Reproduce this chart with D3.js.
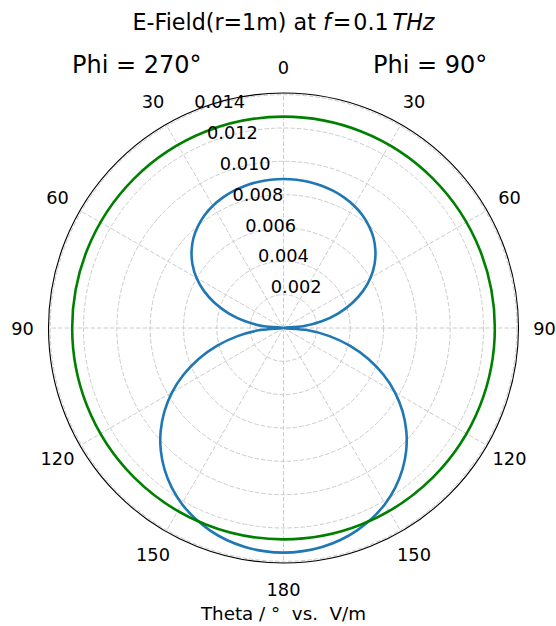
<!DOCTYPE html>
<html>
<head>
<meta charset="utf-8">
<script src="https://cdn.jsdelivr.net/npm/d3@7"></script>
<style>
  body { margin: 0; background: #fff; }
  text { font-family: "DejaVu Sans", sans-serif; fill: #000; }
</style>
</head>
<body>
<div id="chart"></div>
<script>
// theta (deg) for one half of the plot, 0 = top, clockwise
var thetaDeg = [0, 5, 10, 15, 20, 25, 30, 35, 40, 45, 50, 55, 60, 65, 70, 75, 80, 85, 90,
                95, 100, 105, 110, 115, 120, 125, 130, 135, 140, 145, 150, 155, 160, 165, 170, 175, 180];
// blue curve, V/m, same on both halves
var eBlue = [0.00894, 0.00893, 0.00890, 0.00884, 0.00875, 0.00863, 0.00847, 0.00826, 0.00798,
             0.00764, 0.00720, 0.00667, 0.00603, 0.00527, 0.00439, 0.00341, 0.00233, 0.00118, 0,
             0.00141, 0.00280, 0.00414, 0.00542, 0.00661, 0.00772, 0.00872, 0.00962, 0.01041,
             0.01110, 0.01169, 0.01219, 0.01259, 0.01292, 0.01317, 0.01334, 0.01344, 0.01348];
// green curve is flat
var eGreen = 0.01268;

var rTicks = [0.002, 0.004, 0.006, 0.008, 0.010, 0.012, 0.014];
var thetaTicks = [0, 30, 60, 90, 120, 150, 180, 210, 240, 270, 300, 330];
var thetaLabels = ["0", "30", "60", "90", "120", "150", "180", "150", "120", "90", "60", "30"];
var rMax = 0.0141;

var width = 556, height = 626;
var cx = 283.5, cy = 328, R = 235;

var svg = d3.select("#chart").append("svg")
    .attr("width", width)
    .attr("height", height);

var g = svg.append("g").attr("transform", `translate(${cx}, ${cy})`);

var rScale = d3.scaleLinear().domain([0, rMax]).range([0, R]);
var rad = d => d * Math.PI / 180;

// grid circles
g.selectAll(".rgrid")
    .data(rTicks)
    .enter()
    .append("circle")
    .attr("r", d => rScale(d))
    .attr("fill", "none")
    .attr("stroke", "#cccccc")
    .attr("stroke-width", 1)
    .attr("stroke-dasharray", "4.5,2");

// spokes
g.selectAll(".tgrid")
    .data(thetaTicks)
    .enter()
    .append("line")
    .attr("x1", 0).attr("y1", 0)
    .attr("x2", d => R * Math.sin(rad(d)))
    .attr("y2", d => -R * Math.cos(rad(d)))
    .attr("stroke", "#cccccc")
    .attr("stroke-width", 1)
    .attr("stroke-dasharray", "4.5,2");

// full closed curve: right half (phi=90) + mirrored left half (phi=270)
var pts = thetaDeg.map((t, i) => [rad(t), eBlue[i]]);
for (var i = thetaDeg.length - 2; i > 0; i--) {
    pts.push([rad(360 - thetaDeg[i]), eBlue[i]]);
}

var line = d3.lineRadial()
    .angle(d => d[0])
    .radius(d => rScale(d[1]))
    .curve(d3.curveCatmullRomClosed);

g.append("path")
    .datum(pts)
    .attr("d", line)
    .attr("fill", "none")
    .attr("stroke", "#1f77b4")
    .attr("stroke-width", 2.6);

g.append("circle")
    .attr("r", rScale(eGreen))
    .attr("fill", "none")
    .attr("stroke", "green")
    .attr("stroke-width", 2.6);

// outer frame
g.append("circle")
    .attr("r", R)
    .attr("fill", "none")
    .attr("stroke", "#000")
    .attr("stroke-width", 1.1);

// radial tick labels along -22.5 deg
var labAng = rad(-22.5);
g.selectAll(".rlab")
    .data(rTicks)
    .enter()
    .append("text")
    .attr("x", d => rScale(d) * Math.sin(labAng))
    .attr("y", d => -rScale(d) * Math.cos(labAng) - 4)
    .attr("font-size", "17.8px")
    .text(d => d3.format(".3f")(d));

// theta labels
var pad = 26;
g.selectAll(".tlab")
    .data(thetaTicks)
    .enter()
    .append("text")
    .attr("x", d => (R + pad) * Math.sin(rad(d)))
    .attr("y", d => -(R + pad) * Math.cos(rad(d)))
    .attr("text-anchor", "middle")
    .attr("dominant-baseline", "central")
    .attr("font-size", "17.8px")
    .text((d, i) => thetaLabels[i]);

// title
var title = svg.append("text")
    .attr("x", cx)
    .attr("y", 30)
    .attr("text-anchor", "middle")
    .attr("font-size", "22.2px");
title.append("tspan").text("E-Field(r=1m) at ");
title.append("tspan").attr("font-style", "italic").text("f");
title.append("tspan").attr("dx", 2).text("=");
title.append("tspan").attr("dx", 2).text("0.1");
title.append("tspan").attr("dx", 4).attr("font-style", "italic").text("THz");

svg.append("text")
    .attr("x", 72)
    .attr("y", 73)
    .attr("font-size", "24px")
    .text("Phi = 270°");

svg.append("text")
    .attr("x", 373)
    .attr("y", 73)
    .attr("font-size", "24px")
    .text("Phi = 90°");

svg.append("text")
    .attr("x", cx)
    .attr("y", 620)
    .attr("text-anchor", "middle")
    .attr("font-size", "18.3px")
    .attr("xml:space", "preserve")
    .style("white-space", "pre")
    .text("Theta / °  vs.  V/m");
</script>
</body>
</html>
